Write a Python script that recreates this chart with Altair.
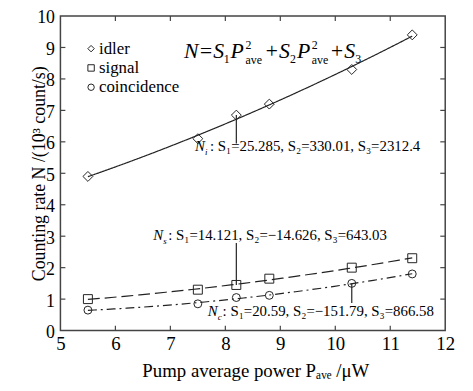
import altair as alt
import pandas as pd

# ---- data ----
power = [5.5, 7.5, 8.2, 8.8, 10.3, 11.4]
idler = [4.9, 6.1, 6.85, 7.2, 8.3, 9.4]
signal = [1.0, 1.3, 1.45, 1.65, 2.0, 2.3]
coincidence = [0.65, 0.85, 1.05, 1.12, 1.5, 1.8]
series_names = ["idler", "signal", "coincidence"]
series_shapes = ["diamond", "square", "circle"]
x_ticks = [5, 6, 7, 8, 9, 10, 11, 12]
y_ticks = [0, 1, 2, 3, 4, 5, 6, 7, 8, 9, 10]

ann_sub = ["i", "s", "c"]
ann_rest = [": S₁=25.285, S₂=330.01, S₃=2312.4",
            ": S₁=14.121, S₂=−14.626, S₃=643.03",
            ": S₁=20.59, S₂=−151.79, S₃=866.58"]
ann_x = [7.45, 6.69, 7.68]
ann_y = [5.72, 2.89, 0.47]
ptr_x = [8.2, 8.2, 10.3]
ptr_y = [6.85, 1.45, 1.5]
ptr_y2 = [5.95, 2.78, 0.88]
# formula pieces: text, x-offset(px), y-offset(px), size, italic
formula_pieces = [
    ("N=S", 0, 0, 22, True), ("1", 40, 5, 12, False), ("P", 47, 0, 22, True),
    ("2", 62, -10, 12, False), ("ave", 62, 6, 12, False),
    ("+S", 81, 0, 22, True), ("2", 107, 5, 12, False), ("P", 114, 0, 22, True),
    ("2", 129, -10, 12, False), ("ave", 129, 6, 12, False),
    ("+S", 147, 0, 22, True), ("3", 173, 5, 12, False),
]
formula_x, formula_y = 7.25, 8.65

FONT = "Liberation Serif"
INK = "#222222"
W, H = 389, 318

rows = []
for name, vals in zip(series_names, [idler, signal, coincidence]):
    for p, v in zip(power, vals):
        rows.append({"P": p, "N": v, "series": name, "sz": name})
df = pd.DataFrame(rows)

xs = alt.Scale(domain=[5, 12], nice=False)
ys = alt.Scale(domain=[0, 10], nice=False)

x_axis = alt.Axis(
    values=x_ticks, format="d", ticks=False, tickSize=0, domain=False, grid=False,
    labelFont=FONT, labelFontSize=19, labelColor="black", labelPadding=4,
    labelBaseline="top", labelFlush=False, labelOverlap=False,
    title="Pump average power Pₐᵥₑ /μW", titleFont=FONT, titleFontSize=19,
    titleFontWeight="normal", titleColor="black", titleX=197, titleY=46,
    titleBaseline="alphabetic", titleAlign="center")
y_axis = alt.Axis(
    values=y_ticks, format="d", ticks=False, tickSize=0, domain=False, grid=False,
    labelFont=FONT, labelFontSize=18, labelColor="black", labelPadding=6,
    labelFlush=False, labelOverlap=False, labelOffset=2,
    title="Counting rate N /(10³ count/s)", titleFont=FONT, titleFontSize=18,
    titleFontWeight="normal", titleColor="black", titleX=-16, titleY=159,
    titleBaseline="alphabetic", titleAlign="center", titleAngle=-90)


def X(f):
    return alt.X(f, type="quantitative", scale=xs, axis=x_axis)


def Y(f):
    return alt.Y(f, type="quantitative", scale=ys, axis=y_axis)


def fit(name, dash):
    return alt.Chart(df).transform_filter(alt.datum.series == name).transform_regression(
        "P", "N", method="poly", order=2, extent=[5.5, 11.4]
    ).mark_line(color=INK, strokeWidth=1.2, strokeDash=dash).encode(x=X("P"), y=Y("N"))


lines = [fit("idler", [1, 0]), fit("signal", [12, 5]), fit("coincidence", [9, 4, 2, 4])]

shape_scale = alt.Scale(domain=series_names, range=series_shapes)
points = alt.Chart(df).mark_point(filled=False, color=INK, strokeWidth=1, opacity=1).encode(
    x=X("P"), y=Y("N"),
    shape=alt.Shape("series:N", scale=shape_scale, legend=None),
    size=alt.Size("sz:N", scale=alt.Scale(domain=series_names, range=[100, 64, 55]),
                  legend=None),
)

# legend drawn inside the top-left corner of the plot
leg_layers = []
for i, (name, shp) in enumerate(zip(series_names, series_shapes)):
    ld = pd.DataFrame({"series": [name]})
    leg_layers.append(alt.Chart(ld).mark_point(
        shape=shp, filled=False, color=INK, strokeWidth=1, size=42, opacity=1
    ).encode(x=alt.value(31), y=alt.value(33 + 19.5 * i)))
    leg_layers.append(alt.Chart(ld).mark_text(
        align="left", baseline="middle", font=FONT, fontSize=17, color="black"
    ).encode(x=alt.value(39), y=alt.value(33 + 19.5 * i), text="series:N"))

ann_df = pd.DataFrame({"x": ann_x, "y": ann_y, "s": ann_sub, "t": ann_rest, "n": ["N"] * 3})
ann_n = alt.Chart(ann_df).mark_text(align="left", baseline="alphabetic", font=FONT,
                                    fontSize=15, fontStyle="italic", color="black").encode(
    x=X("x"), y=Y("y"), text="n:N")
ann_s = alt.Chart(ann_df).mark_text(align="left", baseline="alphabetic", font=FONT,
                                    fontSize=9, fontStyle="italic", color="black",
                                    dx=10, dy=4).encode(x=X("x"), y=Y("y"), text="s:N")
ann_t = alt.Chart(ann_df).mark_text(align="left", baseline="alphabetic", font=FONT,
                                    fontSize=15, color="black", dx=15).encode(
    x=X("x"), y=Y("y"), text="t:N")

ptr_df = pd.DataFrame({"x": ptr_x, "y": ptr_y, "y2": ptr_y2})
ptr = alt.Chart(ptr_df).mark_rule(color=INK, strokeWidth=1.2).encode(
    x=X("x"), y=Y("y"), y2="y2:Q")

fdf = pd.DataFrame({"x": [formula_x], "y": [formula_y]})
form_layers = []
for txt, dx, dy, size, ital in formula_pieces:
    form_layers.append(alt.Chart(fdf).mark_text(
        align="left", baseline="alphabetic", font=FONT, fontSize=size,
        fontStyle="italic" if ital else "normal", color="black", dx=dx, dy=dy, text=txt
    ).encode(x=X("x"), y=Y("y")))

# inward ticks on all four sides
xt = pd.DataFrame({"v": x_ticks[1:-1]})
yt = pd.DataFrame({"v": y_ticks[1:-1]})
tick_style = dict(color="#444444", strokeWidth=1.2)
tb = alt.Chart(xt).mark_rule(**tick_style).encode(x=X("v"), y=alt.value(H), y2=alt.value(H - 5))
tt = alt.Chart(xt).mark_rule(**tick_style).encode(x=X("v"), y=alt.value(0), y2=alt.value(5))
tl = alt.Chart(yt).mark_rule(**tick_style).encode(y=Y("v"), x=alt.value(0), x2=alt.value(5))
tr = alt.Chart(yt).mark_rule(**tick_style).encode(y=Y("v"), x=alt.value(W), x2=alt.value(W - 5))

chart = alt.layer(*lines, points, ptr, ann_n, ann_s, ann_t, *form_layers, *leg_layers,
                  tb, tt, tl, tr).properties(
    width=W, height=H,
    autosize=alt.AutoSizeParams(type="none"),
    padding={"left": 53, "top": 6, "right": 20, "bottom": 60},
    background="white",
).configure(font=FONT).configure_axis(labelFont=FONT, titleFont=FONT).configure_view(
    stroke="#444444", strokeWidth=1.5)

chart.save("out.html", embed_options={"renderer": "svg", "actions": False})
